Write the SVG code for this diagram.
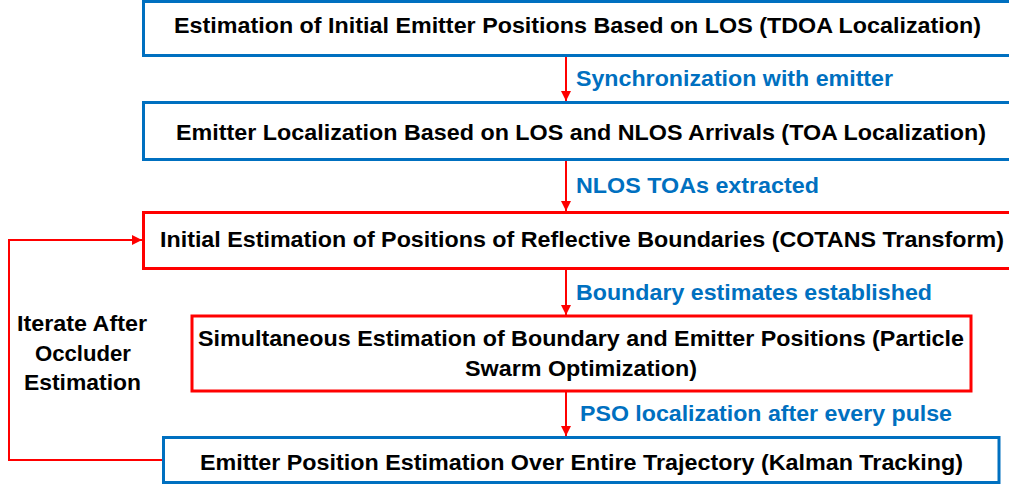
<svg xmlns="http://www.w3.org/2000/svg" width="1009" height="484" viewBox="0 0 1009 484">
<defs>
<style>
.blue{fill:#fff;stroke:#0070C0;stroke-width:3}
.red{fill:#fff;stroke:#FF0000;stroke-width:3}
.t{font-family:"Liberation Sans",Arial,sans-serif;font-weight:bold;font-size:22.5px;fill:#000;text-anchor:middle}
.l{font-family:"Liberation Sans",Arial,sans-serif;font-weight:bold;font-size:22.5px;fill:#0070C0}
.c{fill:none;stroke:#FF0000;stroke-width:2}
</style>
<marker id="ah" viewBox="0 0 10 10" refX="10" refY="5" markerWidth="10" markerHeight="10" markerUnits="userSpaceOnUse" orient="auto">
<path d="M0,0 L10,5 L0,10 Z" fill="#FF0000"/>
</marker>
</defs>
<g id="connectors">
<line class="c" x1="566" y1="57" x2="566" y2="101" marker-end="url(#ah)"/>
<line class="c" x1="566" y1="161" x2="566" y2="211" marker-end="url(#ah)"/>
<line class="c" x1="566" y1="270" x2="566" y2="315" marker-end="url(#ah)"/>
<line class="c" x1="566" y1="392" x2="566" y2="436" marker-end="url(#ah)"/>
<polyline class="c" points="163,460 9,460 9,240 142,240" marker-end="url(#ah)"/>
</g>
<g id="n1">
<rect class="blue" x="143.5" y="1.5" width="870" height="54"/>
<text class="t" x="577.5" y="33" textLength="807" lengthAdjust="spacingAndGlyphs">Estimation of Initial Emitter Positions Based on LOS (TDOA Localization)</text>
</g>
<g id="n2">
<rect class="blue" x="143.5" y="102.5" width="870" height="57"/>
<text class="t" x="581" y="140" textLength="810" lengthAdjust="spacingAndGlyphs">Emitter Localization Based on LOS and NLOS Arrivals (TOA Localization)</text>
</g>
<g id="n3">
<rect class="red" x="143.5" y="212.5" width="870" height="56"/>
<text class="t" x="582" y="247" textLength="844" lengthAdjust="spacingAndGlyphs">Initial Estimation of Positions of Reflective Boundaries (COTANS Transform)</text>
</g>
<g id="n4">
<rect class="red" x="192" y="316" width="779" height="75"/>
<text class="t" x="581" y="346" textLength="766" lengthAdjust="spacingAndGlyphs">Simultaneous Estimation of Boundary and Emitter Positions (Particle</text>
<text class="t" x="581" y="376" textLength="232" lengthAdjust="spacingAndGlyphs">Swarm Optimization)</text>
</g>
<g id="n5">
<rect class="blue" x="163.5" y="437.5" width="835.5" height="45"/>
<text class="t" x="581.5" y="470" textLength="763" lengthAdjust="spacingAndGlyphs">Emitter Position Estimation Over Entire Trajectory (Kalman Tracking)</text>
</g>
<g id="labels">
<text class="l" x="576" y="86" textLength="317" lengthAdjust="spacingAndGlyphs">Synchronization with emitter</text>
<text class="l" x="576" y="193" textLength="243" lengthAdjust="spacingAndGlyphs">NLOS TOAs extracted</text>
<text class="l" x="576" y="300" textLength="356" lengthAdjust="spacingAndGlyphs">Boundary estimates established</text>
<text class="l" x="580" y="421" textLength="372" lengthAdjust="spacingAndGlyphs">PSO localization after every pulse</text>
<text class="t" x="82" y="331" textLength="130" lengthAdjust="spacingAndGlyphs">Iterate After</text>
<text class="t" x="83" y="361" textLength="96" lengthAdjust="spacingAndGlyphs">Occluder</text>
<text class="t" x="82.5" y="390" textLength="117" lengthAdjust="spacingAndGlyphs">Estimation</text>
</g>
</svg>
